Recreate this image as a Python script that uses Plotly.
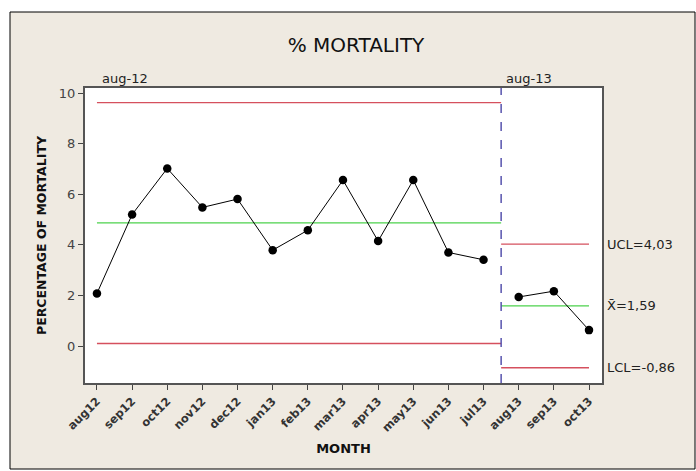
import plotly.graph_objects as go

months = ["aug12", "sep12", "oct12", "nov12", "dec12", "jan13", "feb13", "mar13",
          "apr13", "may13", "jun13", "jul13", "aug13", "sep13", "oct13"]
mortality = [2.08, 5.20, 7.02, 5.48, 5.81, 3.79, 4.58, 6.56, 4.15, 6.56, 3.70, 3.41,
             1.94, 2.17, 0.63]
stage_names = ["aug-12", "aug-13"]
stage_start = [0, 12]
stage_end = [11, 14]
ucl = [9.62, 4.03]
center = [4.87, 1.59]
lcl = [0.10, -0.86]

BEIGE = "#EFEAE1"
RED = "#D5505E"
GREEN = "#4CD24C"
FONT = "DejaVu Sans"

fig = go.Figure()

# control limit lines per stage
for i in range(len(stage_names)):
    x0 = stage_start[i] - (0.5 if i > 0 else 0)
    x1 = stage_end[i] + (0.5 if i < len(stage_names) - 1 else 0)
    for val, col in ((ucl[i], RED), (center[i], GREEN), (lcl[i], RED)):
        fig.add_trace(go.Scatter(x=[x0, x1], y=[val, val], mode="lines",
                                 line=dict(color=col, width=1.4),
                                 hoverinfo="skip", showlegend=False))

# data lines per stage
for i in range(len(stage_names)):
    xs = list(range(stage_start[i], stage_end[i] + 1))
    ys = mortality[stage_start[i]:stage_end[i] + 1]
    fig.add_trace(go.Scatter(x=xs, y=ys, mode="lines+markers",
                             line=dict(color="black", width=1),
                             marker=dict(color="black", size=8.5),
                             showlegend=False))

# stage divider
for i in range(1, len(stage_names)):
    fig.add_shape(type="line", xref="x", yref="paper",
                  x0=stage_start[i] - 0.5, x1=stage_start[i] - 0.5, y0=0, y1=1,
                  line=dict(color="#4B47A8", width=1.4, dash="dash"))

# stage labels
for i in range(len(stage_names)):
    xpos = stage_start[i] - (0.5 if i > 0 else 0)
    fig.add_annotation(x=xpos, y=1, xref="x", yref="paper", text=stage_names[i],
                       showarrow=False, xanchor="left", yanchor="bottom",
                       xshift=3, yshift=0, font=dict(family=FONT, size=13, color="#222"))

# right-side limit labels for last stage
last = len(stage_names) - 1
for lab, val in (("UCL=", ucl[last]), ("X\u0304=", center[last]), ("LCL=", lcl[last])):
    fig.add_annotation(x=1, y=val, xref="paper", yref="y",
                       text=lab + f"{val:.2f}".replace(".", ","),
                       showarrow=False, xanchor="left", xshift=3,
                       font=dict(family=FONT, size=13, color="#222"))

# outer frame background
fig.add_shape(type="rect", xref="paper", yref="paper",
              x0=-75/517, x1=610/517, y0=-86/295, y1=371/295,
              fillcolor=BEIGE, line=dict(color="black", width=1), layer="below")
fig.add_shape(type="rect", xref="paper", yref="paper", x0=0, x1=1, y0=0, y1=1,
              fillcolor="white", line=dict(width=0), layer="below")

fig.update_layout(
    width=696, height=471,
    margin=dict(l=85, r=94, t=88, b=88),
    paper_bgcolor="white", plot_bgcolor="white",
    title=dict(text="% MORTALITY", x=(356-85)/517, xref="paper", xanchor="center",
               y=1 - 45/471, yanchor="middle",
               font=dict(family=FONT, size=20, color="#111")),
    font=dict(family=FONT, size=11, color="#222"),
    showlegend=False,
)
fig.update_xaxes(range=[-0.34, 14.37], tickmode="array",
                 tickvals=list(range(len(months))), ticktext=["<b>" + m + "</b>" for m in months],
                 tickangle=-45, ticks="outside", ticklen=5, tickcolor="#444",
                 showline=True, linecolor="#555", linewidth=2, mirror=True,
                 showgrid=False, zeroline=False,
                 title=dict(text="<b>MONTH</b>", font=dict(family=FONT, size=13, color="#111"),
                            standoff=10),
                 tickfont=dict(family=FONT, size=11.5, color="#333"))
fig.update_yaxes(range=[-1.46, 10.2], tickvals=[0, 2, 4, 6, 8, 10],
                 ticks="outside", ticklen=5, tickcolor="#444",
                 showline=True, linecolor="#555", linewidth=2, mirror=True,
                 showgrid=False, zeroline=False,
                 title=dict(text="<b>PERCENTAGE OF MORTALITY</b>",
                            font=dict(family=FONT, size=12.5, color="#111"), standoff=9),
                 tickfont=dict(family=FONT, size=13, color="#444"))

fig.write_html("out.html", config={"displayModeBar": False},
               post_script="document.body.style.margin='0';")
